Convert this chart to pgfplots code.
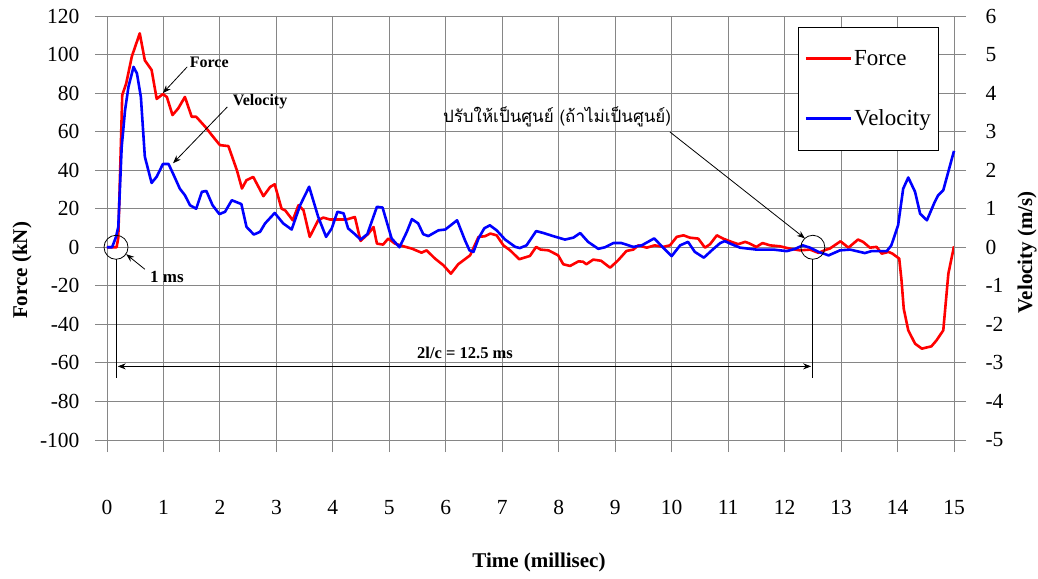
\documentclass[border=0pt]{standalone}
\usepackage{fontspec}
\setmainfont{Liberation Serif}
\newfontfamily\thaifont[Script=Thai]{Loma}
\usepackage{pgfplots}
\pgfplotsset{compat=1.18}
\usetikzlibrary{arrows.meta}
\definecolor{gridc}{RGB}{134,134,134}
\pgfplotstableread{
x F
0 0
0.1 0
0.17 0
0.2 5
0.27 79
0.34 85
0.44 99
0.58 111
0.67 97
0.79 92
0.88 77
0.99 79.5
1.06 78
1.16 68.6
1.26 72
1.38 78
1.50 67.7
1.58 67.7
1.74 62.5
1.88 57.3
2.00 53
2.15 52.5
2.30 40
2.39 30.5
2.47 34.8
2.59 36.5
2.77 26.5
2.89 31.3
2.97 32.7
3.09 20.1
3.16 19
3.29 14
3.39 21.8
3.48 19.2
3.59 5.4
3.74 14
3.83 15.4
3.95 14.4
4.10 14.4
4.24 14.4
4.39 15.7
4.49 3.3
4.63 7.1
4.72 10.5
4.78 1.9
4.89 1.4
4.98 4.5
5.10 1.9
5.25 0.5
5.40 -0.7
5.57 -2.8
5.66 -1.6
5.81 -5.9
5.96 -9.4
6.09 -13.7
6.22 -8.8
6.43 -4.2
6.58 5.4
6.69 5.7
6.79 7.1
6.90 6.2
7.02 1.0
7.14 -1.6
7.30 -6.2
7.49 -4.5
7.60 0.2
7.68 -1.2
7.82 -1.6
7.99 -4.2
8.08 -8.8
8.20 -9.7
8.35 -7.3
8.43 -7.5
8.49 -8.8
8.61 -6.4
8.75 -7
8.91 -10.6
9.05 -6.8
9.20 -1.9
9.32 -1.2
9.41 1.0
9.56 -0.2
9.70 1.0
9.85 0.2
9.97 1.0
10.09 5.4
10.21 6.2
10.32 5.0
10.47 4.5
10.59 -0.2
10.68 1.6
10.80 6.2
10.91 4.5
11.06 2.8
11.18 1.6
11.30 2.8
11.36 2.2
11.50 0.2
11.61 2.2
11.74 1.0
11.92 0.5
12.09 -0.7
12.27 -1.6
12.45 -1.2
12.60 -2.9
12.74 -1.2
12.80 -0.7
12.99 3.1
13.13 -0.2
13.30 4.0
13.39 2.8
13.51 -0.2
13.63 0.2
13.72 -3.3
13.84 -2.4
13.91 -3.3
14.03 -5.9
14.07 -17
14.11 -31.9
14.19 -43.1
14.31 -50
14.43 -52.6
14.60 -51.4
14.69 -48.3
14.81 -43.1
14.90 -13.7
15.0 0.5
}\forcetable
\pgfplotstableread{
x v
0 0
0.09 0
0.16 0.27
0.2 0.53
0.26 2.6
0.32 3.56
0.38 4.16
0.47 4.68
0.53 4.51
0.60 3.9
0.67 2.35
0.79 1.67
0.88 1.83
0.99 2.16
1.09 2.16
1.17 1.91
1.29 1.52
1.38 1.35
1.47 1.09
1.58 1.0
1.68 1.44
1.76 1.46
1.87 1.09
1.99 0.86
2.09 0.92
2.21 1.22
2.38 1.12
2.47 0.53
2.60 0.33
2.71 0.4
2.80 0.62
2.97 0.89
3.12 0.62
3.27 0.46
3.42 1.09
3.58 1.57
3.74 0.79
3.88 0.27
3.98 0.49
4.08 0.92
4.19 0.88
4.27 0.49
4.39 0.34
4.49 0.2
4.61 0.34
4.78 1.05
4.88 1.03
5.04 0.23
5.18 0
5.31 0.4
5.40 0.73
5.51 0.62
5.60 0.34
5.69 0.29
5.87 0.44
5.99 0.46
6.20 0.7
6.34 0.18
6.42 -0.08
6.49 -0.12
6.58 0.23
6.68 0.49
6.78 0.57
6.90 0.44
7.05 0.2
7.23 0.01
7.31 -0.02
7.43 0.05
7.60 0.42
7.73 0.37
7.90 0.29
8.11 0.2
8.26 0.25
8.38 0.37
8.52 0.14
8.70 -0.04
8.82 0.0
8.97 0.11
9.11 0.11
9.32 0.01
9.47 0.05
9.69 0.23
9.85 -0.01
10.0 -0.23
10.15 0.05
10.29 0.14
10.41 -0.12
10.57 -0.27
10.71 -0.08
10.86 0.11
10.94 0.16
11.06 0.08
11.21 -0.01
11.50 -0.06
11.80 -0.06
12.04 -0.1
12.19 -0.04
12.32 0.05
12.45 -0.01
12.60 -0.12
12.78 -0.21
12.98 -0.08
13.16 -0.06
13.42 -0.15
13.54 -0.1
13.81 -0.1
13.89 0.05
14.01 0.57
14.10 1.52
14.19 1.81
14.31 1.44
14.40 0.87
14.52 0.7
14.66 1.18
14.72 1.35
14.81 1.48
15.0 2.5
}\veltable
\begin{document}
\begin{tikzpicture}
\pgfplotsset{
  common/.style={
    scale only axis, width=847pt, height=424pt,
    xmin=0, xmax=15, clip=false,
    axis line style={gridc, line width=0.9pt},
    tick style={gridc, line width=0.9pt},
    major tick length=12pt, tick align=outside,
    ticklabel style={font=\fontsize{21.5}{24}\selectfont},
    /pgf/number format/assume math mode=true,
  }
}
\begin{axis}[common,
  ymin=-100, ymax=120,
  xtick distance=1, ytick distance=20,
  grid=major, major grid style={gridc, line width=0.9pt},
  xtick pos=left, ytick pos=left,
  xticklabel style={yshift=-45pt},
  yticklabel style={xshift=-12pt},
]
\coordinate (BL) at (rel axis cs:0,0);
\coordinate (TR) at (rel axis cs:1,1);
\addplot[red, line width=2.6pt, line join=round] table[x=x,y=F] {\forcetable};
\node[rotate=90, font=\bfseries\fontsize{21}{24}\selectfont] at ([xshift=-85pt]rel axis cs:0,0.40) {Force (kN)};
\node[font=\bfseries\fontsize{21}{24}\selectfont] at ([yshift=-122pt]rel axis cs:0.51,0) {Time (millisec)};
\node[rotate=90, font=\bfseries\fontsize{21}{24}\selectfont] at ([xshift=73pt]rel axis cs:1,0.443) {Velocity (m/s)};
\end{axis}
\begin{axis}[common,
  ymin=-5, ymax=6,
  axis x line=none, axis y line*=right,
  ytick distance=1, ytick pos=right,
  yticklabel style={xshift=16pt},
  legend style={at={(0.816,0.974)}, anchor=north west, draw=black, line width=0.9pt,
    fill=white, font=\fontsize{23}{26}\selectfont, inner xsep=6pt, inner ysep=21pt,
    row sep=39pt, cells={anchor=west}},
  legend image code/.code={\draw[#1] (0pt,0pt) -- (45pt,0pt);},
]
\addlegendimage{red, line width=2.6pt}
\addlegendentry{Force}
\addplot[blue, line width=2.6pt, line join=round] table[x=x,y=v] {\veltable};
\addlegendentry{Velocity}
\begin{scope}[black, line width=0.8pt]
\draw (axis cs:0.16,0) circle[radius=12pt];
\draw (axis cs:12.5,0) circle[radius=12pt];
\draw ([yshift=-12pt]axis cs:0.16,0) -- (axis cs:0.16,-3.4);
\draw ([yshift=-12pt]axis cs:12.5,0) -- (axis cs:12.5,-3.4);
\draw[{Stealth[length=8pt,width=6pt]}-{Stealth[length=8pt,width=6pt]}] (axis cs:0.19,-3.09) -- (axis cs:12.47,-3.09);
\node[font=\bfseries\fontsize{16.5}{18}\selectfont] at (axis cs:6.34,-2.75) {2l/c = 12.5 ms};
\node[font=\bfseries\fontsize{17}{18}\selectfont] at (axis cs:1.06,-0.78) {1 ms};
\draw[-{Stealth[length=8pt,width=6pt]}] (axis cs:0.67,-0.57) -- (axis cs:0.34,-0.18);
\node[font=\bfseries\fontsize{16}{18}\selectfont] at (axis cs:1.81,4.81) {Force};
\draw[-{Stealth[length=8pt,width=6pt]}] (axis cs:1.42,4.68) -- (axis cs:0.99,4.0);
\node[font=\bfseries\fontsize{16}{18}\selectfont] at (axis cs:2.71,3.79) {Velocity};
\draw[-{Stealth[length=8pt,width=6pt]}] (axis cs:2.13,3.64) -- (axis cs:1.17,2.18);
\node[font=\thaifont\fontsize{17}{20}\selectfont] at (axis cs:7.97,3.38) {ปรับให้เป็นศูนย์ (ถ้าไม่เป็นศูนย์)};
\draw[-{Stealth[length=8pt,width=6pt]}] (axis cs:9.97,2.99) -- (axis cs:12.36,0.23);
\end{scope}
\end{axis}
\pgfresetboundingbox
\path[use as bounding box] ([shift={(-107pt,-138pt)}]BL) rectangle ([shift={(84pt,16pt)}]TR);
\end{tikzpicture}
\end{document}
